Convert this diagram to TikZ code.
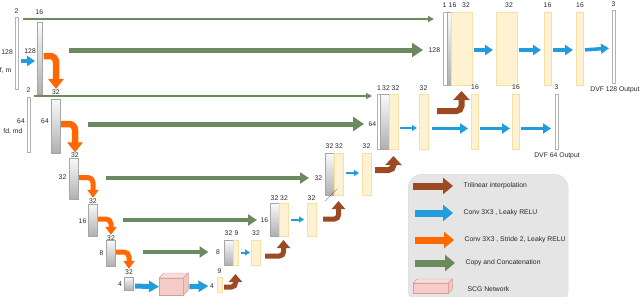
\documentclass[tikz,border=0pt]{standalone}
\usepackage{fontspec}
\setmainfont{Liberation Sans}
\usetikzlibrary{arrows.meta,positioning,calc}
\definecolor{cpgreen}{RGB}{108,138,96}
\definecolor{convblue}{RGB}{32,157,218}
\definecolor{strorange}{RGB}{255,104,0}
\definecolor{tribrown}{RGB}{155,74,36}
\definecolor{featyel}{RGB}{254,242,210}
\definecolor{featedge}{RGB}{246,224,166}
\definecolor{scgpink}{RGB}{245,205,200}
\definecolor{scgedge}{RGB}{212,158,150}

\begin{document}
\begin{tikzpicture}[
  x=1pt,y=-1pt,
  font=\fontsize{6.8}{8}\selectfont,
  txt/.style={inner sep=0.5pt,text=black!85},
  sz/.style 2 args={minimum width=#1pt,minimum height=#2pt},
  gbar/.style={draw=gray!70,top color=gray!4,bottom color=gray!62,
               anchor=north west,inner sep=0,outer sep=0,line width=0.4pt},
  ybar/.style={draw=featedge,fill=featyel,
               anchor=north west,inner sep=0,outer sep=0,line width=0.5pt},
  wbar/.style={draw=gray!60,fill=white,
               anchor=north west,inner sep=0,outer sep=0,line width=0.4pt},
  scgface/.style={draw=scgedge,fill=scgpink,line width=0.4pt},
  cpy/.style={draw=cpgreen,line width=5pt,-{Triangle[width=14pt,length=11pt]}},
  cpys/.style={draw=cpgreen,line width=4pt,-{Triangle[width=11pt,length=9pt]}},
  cpythin/.style={draw=cpgreen,line width=2pt,-{Triangle[width=6pt,length=6pt]}},
  conv/.style={draw=convblue,line width=3.5pt,-{Triangle[width=10pt,length=8pt]}},
  convs/.style={draw=convblue,line width=2pt,-{Triangle[width=6pt,length=5pt]}},
  strd/.style={draw=strorange,line width=6.5pt,rounded corners=6pt,shorten <=1pt,
               -{Triangle[width=15pt,length=10pt]}},
  strds/.style={draw=strorange,line width=5pt,rounded corners=5pt,shorten <=1pt,
                -{Triangle[width=11pt,length=8pt]}},
  tril/.style={draw=tribrown,line width=6pt,rounded corners=5pt,
               -{Triangle[width=16pt,length=9pt]}},
  trils/.style={draw=tribrown,line width=5pt,rounded corners=4pt,
                -{Triangle[width=13pt,length=8pt]}},
  legarr/.style={line width=7pt,-{Triangle[width=16pt,length=10pt]},shorten >=10pt}
]
\useasboundingbox (0,0) rectangle (640,297);
% --- level 1: 128 ---
\node[wbar,sz={3}{72}] (in1) at (15,17) {};
\node[txt] (in1c) at (16.5,11) {2};
\node[txt,anchor=east] (in1s) at (13.5,52) {128};
\node[txt,anchor=east] (in1n) at (12,70) {f, m};
\node[gbar,sz={5.5}{72}] (e1) at (37,22) {};
\node[txt] (e1c) at (39.5,12) {16};
\node[txt,anchor=east] (e1s) at (36.5,51) {128};
\draw[conv,shorten <=3pt,shorten >=2pt] ([yshift=-8pt]in1.east) -- ([yshift=-3pt]e1.west);
% decoder 128
\node[wbar,sz={4}{73}] (d1w) at (443,12) {};
\node[gbar,sz={4}{73}] (d1g) at (447,12) {};
\node[ybar,sz={21}{73}] (d1y) at (451,12) {};
\node[txt] (d1wc) at (444.5,5) {1};
\node[txt] (d1gc) at (452.5,5) {16};
\node[txt] (d1yc) at (466,5) {32};
\node[txt,anchor=west] (d1s) at (428,50) {128};
\node[ybar,sz={21}{73}] (y12) at (496,12) {};
\node[txt] (y12c) at (509,5) {32};
\node[ybar,sz={7}{73}] (y13) at (544,12) {};
\node[txt] (y13c) at (547.5,5) {16};
\node[ybar,sz={7}{73}] (y14) at (576,12) {};
\node[txt] (y14c) at (580,5) {16};
\node[wbar,sz={3}{73}] (out1) at (612,10) {};
\node[txt] (out1c) at (613.5,4) {3};
\node[txt] (out1n) at (615,90) {DVF 128 Output};
\foreach \s/\t in {d1y/y12,y12/y13,y13/y14,y14/out1}
  \draw[conv,shorten <=2pt,shorten >=3pt] ([yshift=-1.5pt]\s.east) -- ([yshift=-1.5pt]\t.west);
% --- level 2: 64 ---
\node[wbar,sz={3}{55}] (in2) at (27,97) {};
\node[txt] (in2c) at (28.5,90) {2};
\node[txt,anchor=east] (in2s) at (25.5,121) {64};
\node[txt,anchor=east] (in2n) at (23,131) {fd, md};
\node[gbar,sz={9}{54}] (e2) at (51,99) {};
\node[txt] (e2c) at (56,92) {32};
\node[txt,anchor=east] (e2s) at (49.5,121) {64};
% decoder 64
\node[wbar,sz={3}{55}] (d2w) at (377,94) {};
\node[gbar,sz={9}{55}] (d2g) at (380,94) {};
\node[ybar,sz={9}{55}] (d2y) at (389,94) {};
\node[txt] (d2wc) at (379,88) {1};
\node[txt] (d2gc) at (386,88) {32};
\node[txt] (d2yc) at (395.5,88) {32};
\node[txt,anchor=west] (d2s) at (368,124) {64};
\node[ybar,sz={9}{55}] (y22) at (419,94) {};
\node[txt] (y22c) at (423.5,88) {32};
\node[ybar,sz={7}{55}] (y23) at (471,94) {};
\node[txt] (y23c) at (475,87) {16};
\node[ybar,sz={7}{55}] (y24) at (512,94) {};
\node[txt] (y24c) at (516,87) {16};
\node[wbar,sz={3}{55}] (out2) at (555,94) {};
\node[txt] (out2c) at (556.5,87) {3};
\node[txt] (out2n) at (557,156) {DVF 64 Output};
\draw[convs,shorten <=2pt,shorten >=2pt] ([yshift=-6.5pt]d2y.east) -- ([yshift=-6.5pt]y22.west);
\foreach \s/\t/\a/\b in {y22/y23/4pt/3pt,y23/y24/2pt/2pt,y24/out2/2pt/4pt}
  \draw[conv,shorten <=\a,shorten >=\b] ([yshift=-7pt]\s.east) -- ([yshift=-7pt]\t.west);
% --- level 3: 32 ---
\node[gbar,sz={9}{41}] (e3) at (69,158) {};
\node[txt] (e3c) at (75,155.5) {32};
\node[txt,anchor=east] (e3s) at (67,177) {32};
\node[gbar,sz={9}{42}] (d3g) at (325,153) {};
\node[ybar,sz={9}{42}] (d3y) at (334,153) {};
\node[txt] (d3gc) at (329.5,146) {32};
\node[txt] (d3yc) at (339,146) {32};
\node[txt,anchor=west] (d3s) at (314,178) {32};
\draw[gray!50!black,line width=0.3pt] ([yshift=-6pt]d3g.south west) -- ++(12,-12);
\node[ybar,sz={9}{42}] (y32) at (362,153) {};
\node[txt] (y32c) at (366.5,146) {32};
\draw[convs,shorten <=3pt,shorten >=3pt] ([yshift=1pt]d3y.east) -- ([yshift=1pt]y32.west);
% --- level 4: 16 ---
\node[gbar,sz={9}{32}] (e4) at (88,204) {};
\node[txt] (e4c) at (93,201) {32};
\node[txt,anchor=east] (e4s) at (87,221) {16};
\node[gbar,sz={9}{33}] (d4g) at (270,203) {};
\node[ybar,sz={9}{33}] (d4y) at (279,203) {};
\node[txt] (d4gc) at (274.5,198) {32};
\node[txt] (d4yc) at (284,198) {32};
\node[txt,anchor=west] (d4s) at (260,220) {16};
\node[ybar,sz={9}{33}] (y42) at (307,203) {};
\node[txt] (y42c) at (311.5,198) {32};
\draw[convs,shorten <=3pt,shorten >=3pt] (d4y.east) -- (y42.west);
% --- level 5: 8 ---
\node[gbar,sz={9}{26}] (e5) at (106,240) {};
\node[txt] (e5c) at (111,238) {32};
\node[txt,anchor=east] (e5s) at (104,253) {8};
\node[gbar,sz={9}{25}] (d5g) at (224,240) {};
\node[ybar,sz={5}{25}] (d5y) at (233,240) {};
\node[txt] (d5gc) at (228.5,233) {32};
\node[txt] (d5yc) at (236.5,233) {9};
\node[txt,anchor=west] (d5s) at (215.5,252) {8};
\node[ybar,sz={9}{25}] (y52) at (251,240) {};
\node[txt] (y52c) at (256,233) {32};
\draw[convs,shorten <=3pt,shorten >=1pt] (d5y.east) -- (y52.west);
% --- level 6: 4 + SCG ---
\node[gbar,sz={9}{13}] (e6) at (124,277) {};
\node[txt] (e6c) at (129,272) {32};
\node[txt,anchor=east] (e6s) at (122.5,284) {4};
\node[scgface,anchor=north west,inner sep=0,sz={24}{17}] (scg) at (159,278) {};
\filldraw[scgface,fill=scgpink!70] (scg.north west) -- ++(5,-5) -- ++(24,0) -- (scg.north east) -- cycle;
\filldraw[scgface,fill=scgpink!85!scgedge] (scg.north east) -- ++(5,-5) -- ++(0,17) -- (scg.south east) -- cycle;
\node[txt] (l62) at (212,286) {4};
\node[ybar,sz={5}{15}] (y62) at (217,277) {};
\node[txt] (y62c) at (219.5,271) {9};
\draw[conv,line width=5pt,-{Triangle[width=11pt,length=10pt]},shorten <=2pt]
  ([yshift=-2.5pt]e6.east) -- (scg.west);
\draw[conv,line width=5pt,-{Triangle[width=11pt,length=10pt]},shorten <=1pt,shorten >=1pt]
  ([xshift=5pt]scg.east) -- (l62.west);
% stride-2 convs (down)
\foreach \s/\t in {e1/e2c,e2/e3c}
  \draw[strd] ([yshift=2pt]\s.east) -| (\t.north);
\foreach \s/\t in {e3/e4c,e4/e5c,e5/e6c}
  \draw[strds] ([yshift=1pt]\s.east) -| (\t.north);
% copy and concatenation
\coordinate (g1as) at (23,19);
\coordinate (g2as) at (34,96);
\draw[cpythin,shorten >=9pt] (g1as) -- (g1as -| d1w.west);
\draw[cpythin,shorten >=5pt] (g2as) -- (g2as -| d2w.west);
\coordinate (g1bs) at (69,50);
\coordinate (g2bs) at (88,124);
\coordinate (g3s) at (106,178);
\coordinate (g4s) at (123,220);
\coordinate (g5s) at (143,252);
\foreach \s/\t/\g in {g1bs/d1s/5pt,g2bs/d2s/4pt}
  \draw[cpy,shorten >=\g] (\s) -- (\t.west);
\foreach \s/\t/\g in {g3s/d3s/5pt,g4s/d4s/3pt,g5s/d5s/7pt}
  \draw[cpys,shorten >=\g] (\s) -- (\t.west);
% trilinear interpolation (up)
\coordinate (r2s) at (437,111);
\coordinate (r3s) at (375,170);
\coordinate (r4s) at (323,219);
\coordinate (r5s) at (265,256);
\coordinate (r6s) at (224,287);
\foreach \s/\t/\d in {r2s/d1y/6pt,r3s/d2y/7pt}
  \draw[tril] (\s) -| ([yshift=-\d]\t.south);
\foreach \s/\t/\d in {r4s/d3y/6pt,r5s/d4y/4pt,r6s/d5y/9pt}
  \draw[trils] (\s) -| ([yshift=-\d]\t.south);
% --- legend ---
\node[draw=gray!30,fill=gray!20,rounded corners=14pt,anchor=north west,
      sz={160}{130}] (leg) at (408,174) {};
\node[txt,anchor=west] (lt1) at (463,186) {Trilinear interpolation};
\node[txt,anchor=west] (lt2) at (463,213) {Conv 3X3 , Leaky RELU};
\node[txt,anchor=west] (lt3) at (464,240) {Conv 3X3 , Stride 2, Leaky RELU};
\node[txt,anchor=west] (lt4) at (465,263) {Copy and Concatenation};
\node[txt,anchor=west] (lt5) at (467,289) {SCG Network};
\coordinate (k1) at (413,186);
\coordinate (k2) at (415,213);
\coordinate (k3) at (415,240);
\coordinate (k4) at (415,263);
\foreach \k/\c in {1/tribrown,2/convblue,3/strorange,4/cpgreen}
  \draw[legarr,draw=\c] (k\k) -- (lt\k.west);
\node[scgface,anchor=north west,inner sep=0,sz={35}{10}] (lscg) at (413,283) {};
\filldraw[scgface,fill=scgpink!70] (lscg.north west) -- ++(4,-4) -- ++(35,0) -- (lscg.north east) -- cycle;
\filldraw[scgface,fill=scgpink!85!scgedge] (lscg.north east) -- ++(4,-4) -- ++(0,10) -- (lscg.south east) -- cycle;
\end{tikzpicture}
\end{document}
